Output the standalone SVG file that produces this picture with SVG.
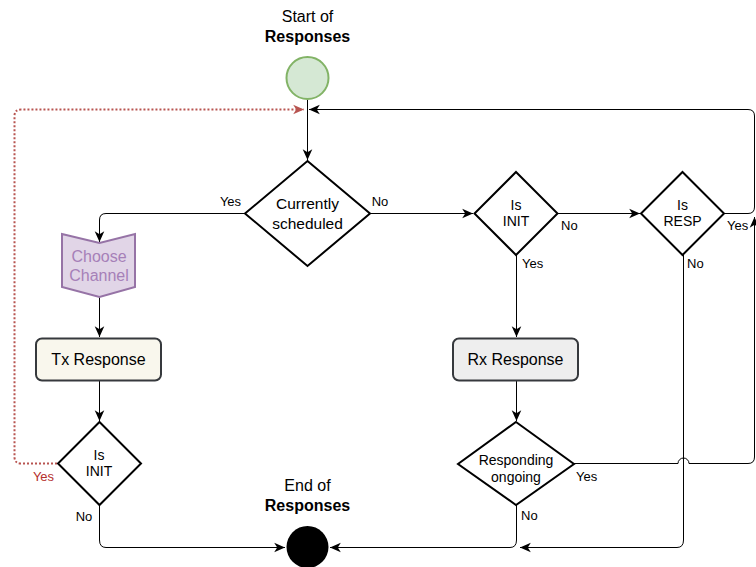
<svg xmlns="http://www.w3.org/2000/svg" width="756" height="567" viewBox="0 0 756 567">
<style>
text{font-family:"Liberation Sans",Arial,sans-serif;fill:#000;text-anchor:middle}
.lbl{font-size:13px}
.st{text-anchor:start}
.b{font-weight:bold}
.dia{fill:#fff;stroke:#000;stroke-width:2}
.c{fill:none;stroke:#000;stroke-width:1}
</style>
<defs>
<marker id="ar" markerUnits="userSpaceOnUse" markerWidth="12" markerHeight="12" viewBox="0 0 10 8" refX="9" refY="4" orient="auto">
<path d="M0,0 L9,4 L0,8 L2.5,4 Z" fill="#000"/>
</marker>
<marker id="arr" markerUnits="userSpaceOnUse" markerWidth="12" markerHeight="12" viewBox="0 0 10 8" refX="9" refY="4" orient="auto">
<path d="M0,0 L9,4 L0,8 L2.5,4 Z" fill="#b85450"/>
</marker>
</defs>
<g id="connectors">
<path class="c" d="M307.5,99 V160" marker-end="url(#ar)"/>
<path class="c" d="M244,213.5 H106 Q99.5,213.5 99.5,220 V242" marker-end="url(#ar)"/>
<path class="c" d="M99.5,297 V337" marker-end="url(#ar)"/>
<path class="c" d="M99.5,380 V421" marker-end="url(#ar)"/>
<path class="c" d="M99.5,505 V540 Q99.5,547.5 106,547.5 H285" marker-end="url(#ar)"/>
<path d="M57,463.5 H21 Q14.5,463.5 14.5,457 V116 Q14.5,109.5 21,109.5 H304" fill="none" stroke="#b85450" stroke-width="2" stroke-dasharray="2 2" marker-end="url(#arr)"/>
<path class="c" d="M370,213.5 H473" marker-end="url(#ar)"/>
<path class="c" d="M558,213.5 H640" marker-end="url(#ar)"/>
<path class="c" d="M516.5,255 V337" marker-end="url(#ar)"/>
<path class="c" d="M516.5,380 V421" marker-end="url(#ar)"/>
<path class="c" d="M516.5,505 V540 Q516.5,547.5 510,547.5 H330" marker-end="url(#ar)"/>
<path class="c" d="M683.5,255 V540 Q683.5,547.5 677,547.5 H520" marker-end="url(#ar)"/>
<path class="c" d="M724,213.5 H748 Q754.5,213.5 754.5,207 V116 Q754.5,109.5 748,109.5 H309" marker-end="url(#ar)"/>
<path class="c" d="M573,463.5 H678 A5.5,5.5 0 0 1 689,463.5 H748 Q754.5,463.5 754.5,457 V217" marker-end="url(#ar)"/>
</g>
<g id="start">
<circle cx="307.5" cy="78" r="21" fill="#d5e8d4" stroke="#82b366" stroke-width="2"/>
<text x="307.5" y="22" font-size="16">Start of</text>
<text x="307.5" y="42" font-size="16" class="b">Responses</text>
</g>
<g id="end">
<circle cx="307.5" cy="547" r="21" fill="#000"/>
<text x="307.5" y="491" font-size="16">End of</text>
<text x="307.5" y="511" font-size="16" class="b">Responses</text>
</g>
<g id="currently">
<path class="dia" d="M307.5,161 L370,213.5 L307.5,266 L245,213.5 Z"/>
<text x="307.5" y="209" font-size="15.5">Currently</text>
<text x="307.5" y="229" font-size="15.5">scheduled</text>
</g>
<g id="choose">
<path d="M62,234 L99.5,243 L135,234 V287 L99.5,297 L62,287 Z" fill="#e1d5e7" stroke="#9673a6" stroke-width="2"/>
<text x="99" y="262" font-size="16" style="fill:#a680b8">Choose</text>
<text x="99" y="281" font-size="16" style="fill:#a680b8">Channel</text>
</g>
<g id="tx">
<rect x="36" y="338.5" width="125" height="42" rx="6" fill="#f9f7ed" stroke="#36393d" stroke-width="2"/>
<text x="98.5" y="365" font-size="16">Tx Response</text>
</g>
<g id="isinit_left">
<path class="dia" d="M99.5,422 L141,463.5 L99.5,505 L58,463.5 Z"/>
<text x="99" y="460" font-size="14">Is</text>
<text x="99" y="476" font-size="14">INIT</text>
</g>
<g id="isinit_right">
<path class="dia" d="M516,172 L557.5,213.5 L516,255 L474.5,213.5 Z"/>
<text x="516" y="210" font-size="14">Is</text>
<text x="516" y="226" font-size="14">INIT</text>
</g>
<g id="isresp">
<path class="dia" d="M682.5,172 L724,213.5 L682.5,255 L641,213.5 Z"/>
<text x="682.5" y="210" font-size="14">Is</text>
<text x="682.5" y="226" font-size="14">RESP</text>
</g>
<g id="rx">
<rect x="453" y="338.5" width="125" height="42" rx="6" fill="#eeeeee" stroke="#36393d" stroke-width="2"/>
<text x="515.5" y="365" font-size="16">Rx Response</text>
</g>
<g id="responding">
<path class="dia" d="M516,422 L574,464 L516,505 L458,464 Z"/>
<text x="516" y="465" font-size="14">Responding</text>
<text x="516" y="482" font-size="14">ongoing</text>
</g>
<g id="labels">
<text x="230.5" y="206" class="lbl">Yes</text>
<text x="380" y="206" class="lbl">No</text>
<text x="561" y="229.5" class="lbl st">No</text>
<text x="522" y="267.5" class="lbl st">Yes</text>
<text x="687" y="267.5" class="lbl st">No</text>
<text x="727" y="229.5" class="lbl st">Yes</text>
<text x="576" y="480.5" class="lbl st">Yes</text>
<text x="521" y="520" class="lbl st">No</text>
<text x="43.5" y="481" class="lbl" style="fill:#b5302e">Yes</text>
<text x="84" y="520.5" class="lbl">No</text>
</g>
</svg>
